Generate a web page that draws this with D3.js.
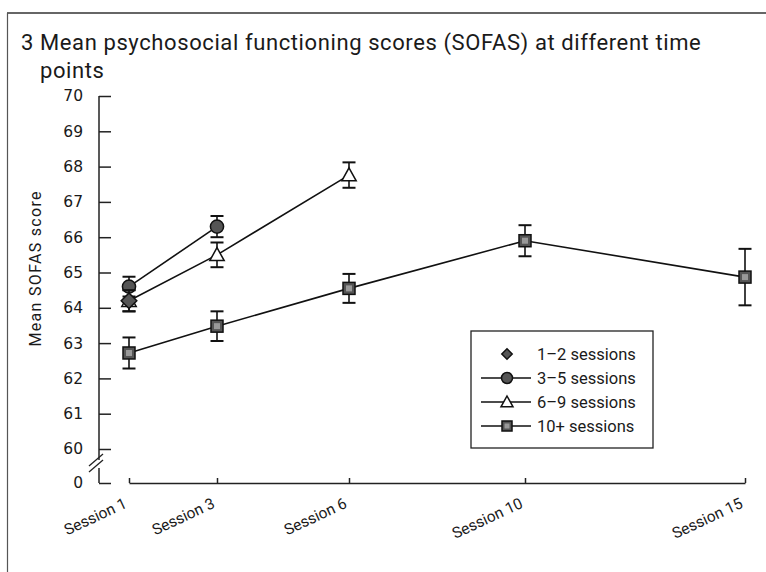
<!DOCTYPE html>
<html>
<head>
<meta charset="utf-8">
<script src="https://cdn.jsdelivr.net/npm/d3@7"></script>
<style>
  body { margin: 0; background: #fff; }
  text { font-family: Roboto, "Noto Sans", sans-serif; fill: #1a1a1a; }
</style>
</head>
<body>
<script>
const WIDTH = 766;
const HEIGHT = 572;

// data
const sessions = [1, 3, 6, 10, 15];
const sessionLabels = ["Session 1", "Session 3", "Session 6", "Session 10", "Session 15"];
const yTicks = [0, 60, 61, 62, 63, 64, 65, 66, 67, 68, 69, 70];
const groupNames = ["1\u20132 sessions", "3\u20135 sessions", "6\u20139 sessions", "10+ sessions"];
const groupShapes = ["diamond", "circle", "triangle", "square"];

const means1to2 = [64.2, null, null, null, null];
const err1to2 = [0.3, null, null, null, null];
const means3to5 = [64.6, 66.3, null, null, null];
const err3to5 = [0.28, 0.3, null, null, null];
const means6to9 = [64.2, 65.5, 67.76, null, null];
const err6to9 = [0.3, 0.35, 0.36, null, null];
const means10plus = [62.72, 63.48, 64.55, 65.9, 64.87];
const err10plus = [0.44, 0.42, 0.41, 0.44, 0.8];

const groups = [
  {name: groupNames[3], shape: groupShapes[3], means: means10plus, errs: err10plus, line: true},
  {name: groupNames[2], shape: groupShapes[2], means: means6to9, errs: err6to9, line: true},
  {name: groupNames[1], shape: groupShapes[1], means: means3to5, errs: err3to5, line: true},
  {name: groupNames[0], shape: groupShapes[0], means: means1to2, errs: err1to2, line: false}
];

const svg = d3.select('body')
    .append('svg')
    .attr('width', WIDTH)
    .attr('height', HEIGHT);

// frame
svg.append('line').attr('x1', 7).attr('x2', WIDTH).attr('y1', 13).attr('y2', 13)
    .attr('stroke', '#333').attr('stroke-width', 1.5);
svg.append('line').attr('x1', 7.5).attr('x2', 7.5).attr('y1', 13).attr('y2', HEIGHT)
    .attr('stroke', '#555').attr('stroke-width', 1.2);

// title
const title = svg.append('g').attr('font-size', 22).attr('letter-spacing', 0.6);
title.append('text').attr('x', 21).attr('y', 50).text('3');
title.append('text').attr('x', 40).attr('y', 50)
    .text('Mean psychosocial functioning scores (SOFAS) at different time');
title.append('text').attr('x', 40).attr('y', 78).text('points');

const x = d3.scaleLinear().domain([1, 15]).range([129, 745]);
const y = d3.scaleLinear().domain([0, 60, 70]).range([483, 449, 96]);

// y axis
const yAxis = svg.append('g')
    .attr('transform', 'translate(99,0)')
    .call(d3.axisLeft(y).tickValues(yTicks).tickSizeInner(-12).tickSizeOuter(0).tickPadding(16));
yAxis.select('.domain').remove();
yAxis.selectAll('.tick line').attr('stroke', '#222').attr('stroke-width', 1.5);
yAxis.selectAll('.tick text')
    .style('font-size', '15.5px')
    .style('font-family', '"DejaVu Sans", sans-serif')
    .style('fill', '#1a1a1a');

// axis line with break
svg.append('line').attr('x1', 99).attr('x2', 99).attr('y1', y(70)).attr('y2', 460)
    .attr('stroke', '#222').attr('stroke-width', 1.5);
svg.append('line').attr('x1', 99).attr('x2', 99).attr('y1', 468).attr('y2', y(0))
    .attr('stroke', '#222').attr('stroke-width', 1.5);
[0, 6].forEach(d => {
  svg.append('line').attr('x1', 89).attr('x2', 103).attr('y1', 466 + d).attr('y2', 454 + d)
      .attr('stroke', '#222').attr('stroke-width', 1.3);
});

svg.append('text')
    .attr('transform', `translate(41, ${y(65.1)}) rotate(-90)`)
    .attr('text-anchor', 'middle')
    .attr('font-size', 16)
    .attr('textLength', 155)
    .attr('lengthAdjust', 'spacing')
    .text('Mean SOFAS score');

// x axis
const xAxis = svg.append('g')
    .attr('transform', `translate(0, ${y(0)})`)
    .call(d3.axisBottom(x).tickValues(sessions).tickSizeInner(-5).tickSizeOuter(0).tickFormat(''));
xAxis.select('.domain').attr('stroke', '#222').attr('stroke-width', 1.5);
xAxis.selectAll('.tick line').attr('stroke', '#222').attr('stroke-width', 1.5);

svg.append('g').selectAll('text')
    .data(sessions)
    .join('text')
    .attr('transform', d => `translate(${x(d) - 1}, ${y(0) + 24}) rotate(-25)`)
    .attr('text-anchor', 'end')
    .attr('font-size', 15.5)
    .text((d, i) => sessionLabels[i]);

// markers
function drawMarker(g, shape, cx, cy, size) {
  if (shape === 'circle') {
    g.append('circle').attr('cx', cx).attr('cy', cy).attr('r', size * 0.55)
        .attr('fill', '#555').attr('stroke', '#111').attr('stroke-width', 1.5);
  } else if (shape === 'diamond') {
    const s = size * 0.65;
    g.append('path').attr('d', `M${cx},${cy - s}L${cx + s},${cy}L${cx},${cy + s}L${cx - s},${cy}Z`)
        .attr('fill', '#555').attr('stroke', '#111').attr('stroke-width', 1.5);
  } else if (shape === 'triangle') {
    const s = size * 0.6;
    g.append('path').attr('d', `M${cx},${cy - s}L${cx + s},${cy + s * 0.8}L${cx - s},${cy + s * 0.8}Z`)
        .attr('fill', '#fff').attr('stroke', '#111').attr('stroke-width', 1.5);
  } else {
    const s = size * 0.5;
    g.append('rect').attr('x', cx - s).attr('y', cy - s).attr('width', 2 * s).attr('height', 2 * s)
        .attr('fill', '#555').attr('stroke', '#111').attr('stroke-width', 1.5);
    g.append('rect').attr('x', cx - s * 0.5).attr('y', cy - s * 0.5).attr('width', s).attr('height', s)
        .attr('fill', '#999');
  }
}

const line = d3.line()
    .defined(d => d.m != null)
    .x(d => x(d.s))
    .y(d => y(d.m));

const plot = svg.append('g');

groups.forEach(gr => {
  const pts = sessions.map((s, i) => ({s: s, m: gr.means[i], e: gr.errs[i]})).filter(d => d.m != null);
  if (gr.line) {
    plot.append('path').datum(pts).attr('d', line)
        .attr('fill', 'none').attr('stroke', '#111').attr('stroke-width', 1.6);
  }
});

groups.forEach(gr => {
  const pts = sessions.map((s, i) => ({s: s, m: gr.means[i], e: gr.errs[i]})).filter(d => d.m != null);
  pts.forEach(d => {
    const g = plot.append('g').attr('stroke', '#111');
    const cx = x(d.s);
    g.append('line').attr('x1', cx).attr('x2', cx).attr('y1', y(d.m + d.e)).attr('y2', y(d.m - d.e))
        .attr('stroke-width', 1.6);
    [d.m + d.e, d.m - d.e].forEach(v => {
      g.append('line').attr('x1', cx - 6.5).attr('x2', cx + 6.5).attr('y1', y(v)).attr('y2', y(v))
          .attr('stroke-width', 2);
    });
    drawMarker(plot, gr.shape, cx, y(d.m), 12);
  });
});

// legend
const legend = svg.append('g');
legend.append('rect').attr('x', 471).attr('y', 331).attr('width', 182).attr('height', 117)
    .attr('fill', '#fff').attr('stroke', '#222').attr('stroke-width', 1.3);

groupNames.forEach((name, i) => {
  const ly = 354 + i * 24;
  if (i > 0) {
    legend.append('line').attr('x1', 481).attr('x2', 531).attr('y1', ly).attr('y2', ly)
        .attr('stroke', '#111').attr('stroke-width', 1.3);
  }
  drawMarker(legend, groupShapes[i], 507, ly, i === 0 ? 8 : 10);
  legend.append('text').attr('x', 537).attr('y', ly + 5.5).attr('font-size', 16.5).text(name);
});
</script>
</body>
</html>
